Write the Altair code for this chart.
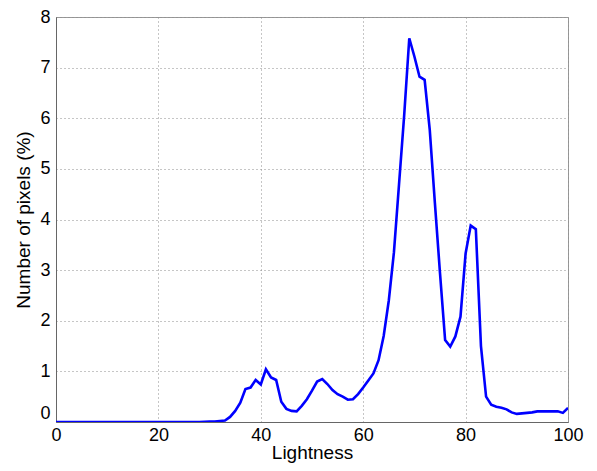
import altair as alt
import pandas as pd

lightness = list(range(0, 101))
pixels_pct = (
    [0.0] * 29
    + [0.005, 0.01, 0.01, 0.02, 0.03, 0.10, 0.22, 0.38, 0.65, 0.68,   # 29-38
       0.83, 0.74, 1.04, 0.88, 0.83, 0.40, 0.26, 0.22, 0.21, 0.32,    # 39-48
       0.45, 0.62, 0.80, 0.85, 0.75, 0.63, 0.55, 0.50, 0.44, 0.45,    # 49-58
       0.55, 0.68, 0.82, 0.96, 1.22, 1.70, 2.40, 3.35, 4.70, 6.05,    # 59-68
       7.58, 7.22, 6.82, 6.76, 5.77, 4.33, 2.94, 1.62, 1.49, 1.69,    # 69-78
       2.08, 3.33, 3.88, 3.81, 1.50, 0.50, 0.34, 0.30, 0.28, 0.25,    # 79-88
       0.19, 0.16, 0.17, 0.18, 0.19, 0.21, 0.21, 0.21, 0.21, 0.21,    # 89-98
       0.18, 0.28]                                                     # 99-100
)

x_ticks = [0, 20, 40, 60, 80, 100]
y_ticks = [0, 1, 2, 3, 4, 5, 6, 7, 8]

df = pd.DataFrame({"Lightness": lightness, "Pixels": pixels_pct})

FONT = "Liberation Sans"

chart = alt.Chart(df).mark_line(color="#0000FF", strokeWidth=2.6, clip=True).encode(
    x=alt.X("Lightness:Q", title="Lightness",
            scale=alt.Scale(domain=[0, 100], nice=False, zero=False),
            axis=alt.Axis(values=x_ticks, labelPadding=4,
                          titleBaseline="alphabetic", titleY=36)),
    y=alt.Y("Pixels:Q", title="Number of pixels (%)",
            scale=alt.Scale(domain=[0, 8], nice=False),
            axis=alt.Axis(values=y_ticks, labelPadding=6, titlePadding=6,
                          labelBaseline={"condition": {"test": "datum.value == 0", "value": "bottom"}, "value": "middle"})),
).properties(
    width=512, height=405,
    autosize=alt.AutoSizeParams(type="none"),
    padding={"left": 48, "top": 9, "right": 21, "bottom": 41},
).configure_axis(
    grid=True, gridColor="#8c8c8c", gridDash=[1, 3], gridWidth=1, gridOpacity=1,
    domainColor="#666666", domainWidth=1,
    ticks=False,
    labelFont=FONT, labelFontSize=18, labelColor="#000000",
    titleFont=FONT, titleFontSize=19, titleColor="#000000", titleFontWeight="normal",
    labelFlush=False,
).configure_view(
    stroke="#999999", strokeWidth=1,
)

chart.save("out.html", embed_options={"renderer": "svg", "actions": False})
